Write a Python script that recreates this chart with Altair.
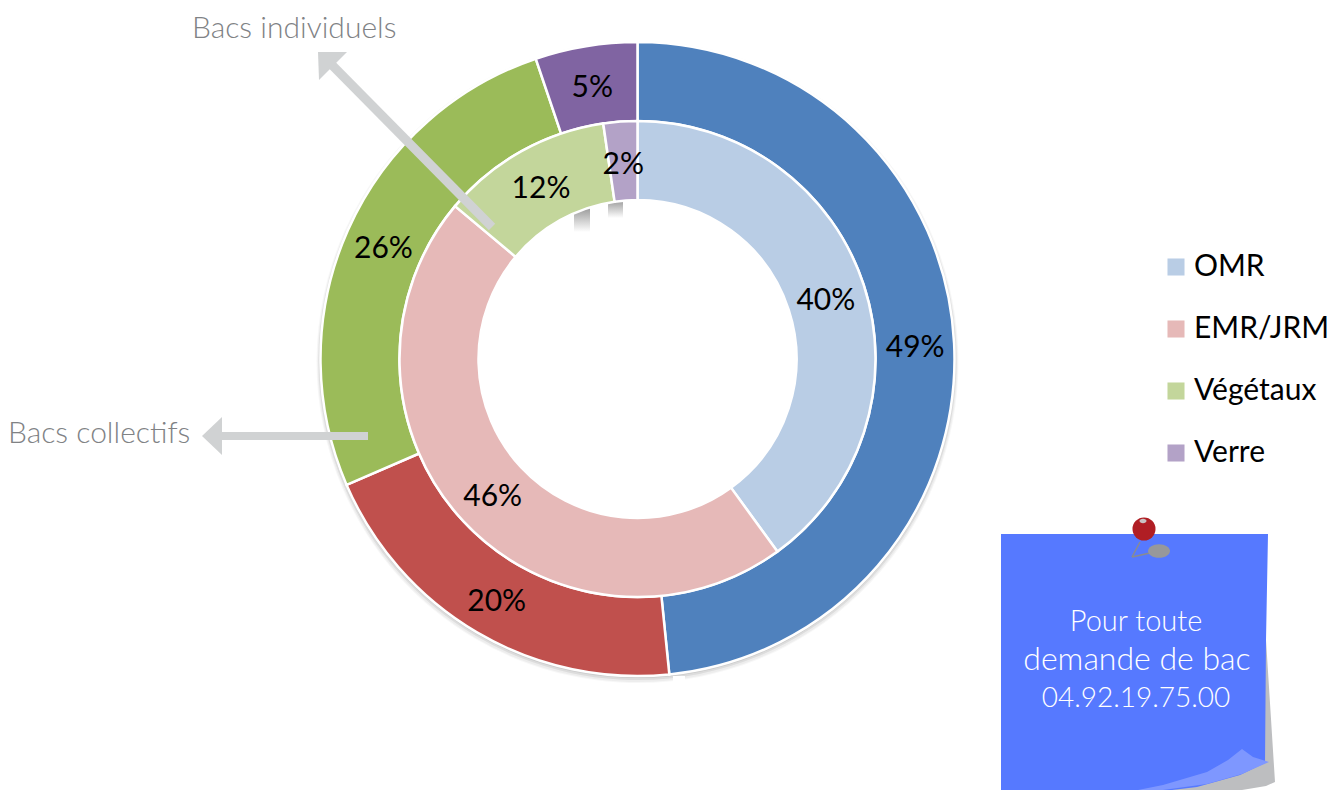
import altair as alt
import pandas as pd

W, H = 1325, 782
CX, CY = 629.5, 351

# --- series ---
outer_cat = ["OMR", "EMR/JRM", "Végétaux", "Verre"]
outer_val = [48.4, 20.1, 26.3, 5.2]
outer_lab = ["49%", "20%", "26%", "5%"]
outer_col = ["#4F81BD", "#C0504D", "#9BBB59", "#8064A2"]
inner_val = [40.0, 46.1, 11.6, 2.3]
inner_lab = ["40%", "46%", "12%", "2%"]
inner_col = ["#B9CDE5", "#E6B9B8", "#C3D69B", "#B3A2C7"]
order = [0, 1, 2, 3]

outer = pd.DataFrame(dict(cat=outer_cat, val=outer_val, lab=outer_lab, col=outer_col, o=order))
inner = pd.DataFrame(dict(cat=outer_cat, val=inner_val, lab=inner_lab, o=order))

note_lines = ["Pour toute", "demande de bac", "04.92.19.75.00"]
note_line_x = [1136, 1137, 1136]
note_line_y = [622, 660, 699]
note_line_size = [29, 32, 28]
ann_text = ["Bacs individuels", "Bacs collectifs"]
ann_x = [192, 8]
ann_y = [29, 434]

xs = alt.Scale(domain=[8, 8 + W], range=[0, W], nice=False, zero=False)
ys = alt.Scale(domain=[8, 8 + H], range=[0, H], nice=False, zero=False)
ts = alt.Scale(domain=[0, 100])
X = lambda f="x": alt.X(f, type="quantitative", scale=xs, axis=None)
Y = lambda f="y": alt.Y(f, type="quantitative", scale=ys, axis=None)
TH = alt.Theta("val:Q", scale=ts, stack=True)
ORD = alt.Order("o:Q")


def area(xv, top, bot, color, **kw):
    d = pd.DataFrame(dict(x=xv, y=top, y2=bot))
    return alt.Chart(d).mark_area(color=color, orient="vertical", **kw).encode(
        x=X(), y=Y(), y2=alt.Y2("y2:Q"))


def ring_shadow(r0, r1, dx, dy, op):
    return alt.Chart(outer).mark_arc(
        radius=r1, radius2=r0, color="#000000", opacity=op).encode(
        theta=TH, order=ORD, x=alt.value(CX + dx), y=alt.value(CY + dy))


def fade(x0, x1, y0, y1, c0):
    d = pd.DataFrame(dict(x=[x0], x2=[x1], y=[y0], y2=[y1]))
    g = alt.Gradient(gradient="linear", x1=0, x2=0, y1=0, y2=1,
                     stops=[alt.GradientStop(color=c0, offset=0),
                            alt.GradientStop(color="#FFFFFF", offset=1)])
    return alt.Chart(d).mark_rect(color=g, opacity=1).encode(
        x=X(), x2="x2:Q", y=Y(), y2="y2:Q")


shadow = [ring_shadow(300, 321, 0, 3, 0.03), ring_shadow(300, 320, 0, 3, 0.04),
          ring_shadow(300, 319, 0, 2, 0.07), ring_shadow(300, 318, 0, 1, 0.08)]
gap = alt.Chart(pd.DataFrame(dict(x=[673], x2=[685], y=[676], y2=[698]))).mark_rect(
    color="#FFFFFF", opacity=1).encode(x=X(), x2="x2:Q", y=Y(), y2="y2:Q")
patches = [fade(574, 590, 205, 232, "#8E8E8E"), fade(608, 623, 198, 218, "#8E8E8E")]

outer_arc = alt.Chart(outer).mark_arc(
    radius=317, radius2=238, stroke="#FFFFFF", strokeWidth=2.5).encode(
    theta=TH, order=ORD, x=alt.value(CX), y=alt.value(CY),
    fill=alt.Fill("col:N", scale=None))

inner_arc = alt.Chart(inner).mark_arc(
    radius=238, radius2=159, stroke="#FFFFFF", strokeWidth=2.5).encode(
    theta=TH, order=ORD, x=alt.value(CX), y=alt.value(CY),
    fill=alt.Fill("cat:N",
                  scale=alt.Scale(domain=outer_cat, range=inner_col),
                  sort=outer_cat,
                  legend=alt.Legend(
                      title=None, orient="none", legendX=1153, legendY=244,
                      symbolType="square", symbolSize=290, symbolStrokeWidth=0,
                      labelFont="Lato", labelFontSize=30, labelColor="#000000",
                      labelLimit=300, labelOffset=3, rowPadding=32,
                      padding=0)))

arrow1 = alt.Chart(pd.DataFrame(dict(x=[492], y=[227], x2=[330], y2=[63]))).mark_rule(
    color="#D0D2D3", strokeWidth=9).encode(x=X(), y=Y(), x2="x2:Q", y2="y2:Q")
arrow2 = alt.Chart(pd.DataFrame(dict(x=[368], y=[436], x2=[215], y2=[436]))).mark_rule(
    color="#D0D2D3", strokeWidth=8).encode(x=X(), y=Y(), x2="x2:Q", y2="y2:Q")
head1 = area([318, 319, 347], [52, 52, 52], [52, 80, 52], "#D0D2D3")
head2 = area([202, 222], [436, 417], [436, 455], "#D0D2D3")

outer_txt = alt.Chart(outer).mark_text(
    radius=278, font="Lato", fontSize=30, color="#000000", dy=3).encode(
    theta=TH, order=ORD, text="lab:N", x=alt.value(CX), y=alt.value(CY))
inner_txt = alt.Chart(inner).mark_text(
    radius=198, font="Lato", fontSize=30, color="#000000", dy=3).encode(
    theta=TH, order=ORD, text="lab:N", x=alt.value(CX), y=alt.value(CY))

ann = alt.Chart(pd.DataFrame(dict(x=ann_x, y=ann_y, t=ann_text))).mark_text(
    align="left", baseline="middle", font="Lato", fontWeight=300, fontSize=30,
    color="#808285").encode(x=X(), y=Y(), text="t:N")

# sticky note
note_shadow = area([1130, 1180, 1230, 1266, 1275],
                   [790, 760, 760, 640, 782],
                   [798, 797, 792, 786, 782], "#BDBEC0")
note_body = area([1001, 1080, 1147, 1197, 1240, 1265, 1266, 1268],
                 [534, 534, 534, 534, 534, 534, 534, 534],
                 [798, 798, 793, 787, 775, 763, 640, 534], "#5679FF")
note_curl = area([1080, 1113, 1163, 1207, 1228, 1242, 1253, 1269],
                 [798, 795, 785, 772, 760, 749, 757, 762],
                 [798, 797, 790, 784, 778, 774, 769, 762], "#7E97FF")
note_txt = [
    alt.Chart(pd.DataFrame(dict(x=[lx], y=[ly], t=[ln]))).mark_text(
        align="center", baseline="middle", font="Lato", fontWeight=300, fontSize=fs,
        color="#FFFFFF").encode(x=X(), y=Y(), text="t:N")
    for lx, ly, ln, fs in zip(note_line_x, note_line_y, note_lines, note_line_size)
]

# pin
pin_rule = alt.Chart(pd.DataFrame(dict(x=[1132, 1132], y=[557, 557], x2=[1140, 1150], y2=[542, 553]))
                     ).mark_rule(color="#8A8C8E", strokeWidth=1.5).encode(
    x=X(), y=Y(), x2="x2:Q", y2="y2:Q")
ELLIPSE = "M-1,0 A1,0.62 0 1,1 1,0 A1,0.62 0 1,1 -1,0 Z"
pin_shadow = alt.Chart(pd.DataFrame(dict(x=[1159], y=[551]))).mark_point(
    shape=ELLIPSE, size=484, filled=True, color="#97989B", opacity=1).encode(x=X(), y=Y())
pin_head = alt.Chart(pd.DataFrame(dict(x=[1144], y=[529]))).mark_circle(
    size=530, color="#B01E24", opacity=1).encode(x=X(), y=Y())
pin_hi = alt.Chart(pd.DataFrame(dict(x=[1143], y=[521]))).mark_point(
    shape=ELLIPSE, size=49, filled=True, color="#C9C3C3", opacity=1).encode(x=X(), y=Y())

chart = alt.layer(
    *shadow, gap, *patches, outer_arc, inner_arc,
    arrow1, arrow2, head1, head2, outer_txt, inner_txt, ann,
    note_shadow, note_body, note_curl, *note_txt,
    pin_rule, pin_shadow, pin_head, pin_hi,
).resolve_scale(fill="independent").properties(
    width=W, height=H, padding=0,
    autosize=alt.AutoSizeParams(type="none"),
    background="#FFFFFF",
).configure_view(stroke=None)

chart.save("out.html", embed_options={"renderer": "svg", "actions": False})
